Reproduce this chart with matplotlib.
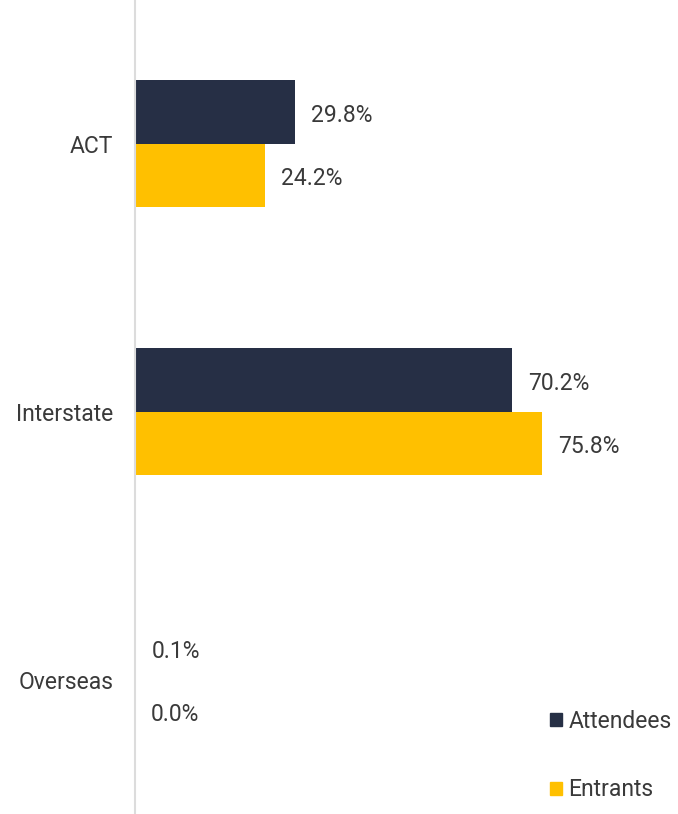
import numpy as np
import matplotlib.pyplot as plt
from matplotlib.patches import Patch

plt.rcParams['font.family'] = ['Roboto', 'DejaVu Sans']

categories = ['ACT', 'Interstate', 'Overseas']
attendees = [29.8, 70.2, 0.1]
entrants = [24.2, 75.8, 0.0]

navy = '#262f45'
gold = '#ffc000'
text_col = '#3a3a3a'
fs = 16.5

fig = plt.figure(figsize=(6.78, 8.14), dpi=100)
ax = fig.add_axes([135 / 678, 0, 537 / 678, 1])

y = np.arange(len(categories))
h = 0.237
ax.barh(y - h / 2, attendees, height=h, color=navy, label='Attendees')
ax.barh(y + h / 2, entrants, height=h, color=gold, label='Entrants')

for yi, a, e in zip(y, attendees, entrants):
    ax.text(a + 3.0, yi - h / 2 + 0.012, f'{a:.1f}%', va='center', ha='left',
            fontsize=fs, color=text_col)
    ax.text(e + 3.0, yi + h / 2 + 0.012, f'{e:.1f}%', va='center', ha='left',
            fontsize=fs, color=text_col)

ax.set_xlim(0, 100)
ax.set_ylim(2.5, -0.537)
ax.set_yticks(y)
ax.set_yticklabels(categories, fontsize=fs, color=text_col)
ax.tick_params(axis='y', length=0, pad=15.5)
ax.set_xticks([])

for s in ['top', 'right', 'bottom']:
    ax.spines[s].set_visible(False)
ax.spines['left'].set_color('#dcdcdc')
ax.spines['left'].set_linewidth(1.5)

handles = [Patch(color=navy, label='Attendees'), Patch(color=gold, label='Entrants')]
leg = ax.legend(handles=handles, loc='lower left', bbox_to_anchor=(0.739, -0.007),
                frameon=False, fontsize=fs, handlelength=0.5, handleheight=0.5,
                handletextpad=0.3, labelspacing=2.0, borderpad=0.3)
for t in leg.get_texts():
    t.set_color(text_col)

fig.savefig('out.png', dpi=100)
